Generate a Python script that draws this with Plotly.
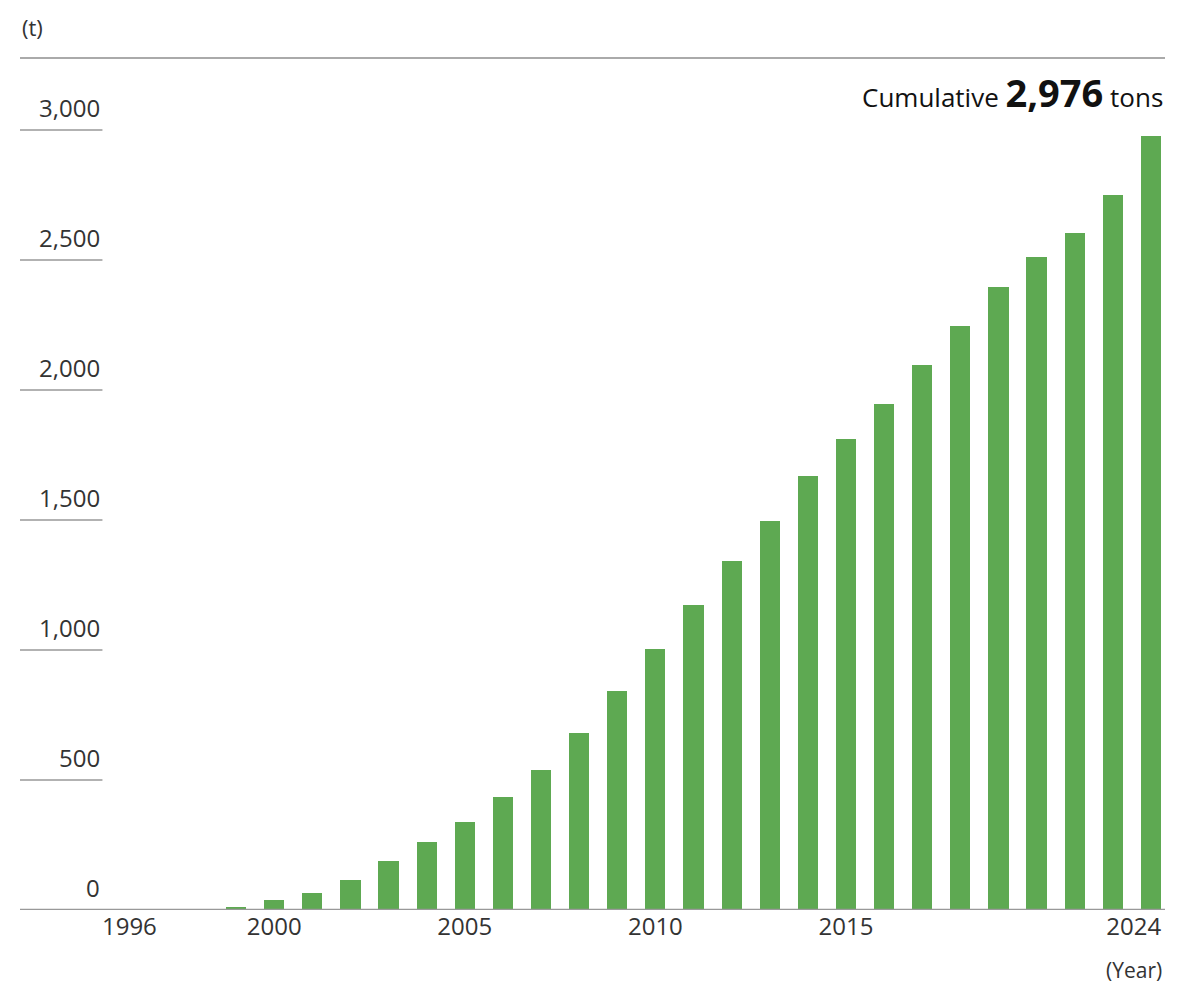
import plotly.graph_objects as go

years = list(range(1999, 2025))
tons = [2, 10, 38, 65, 115, 188, 262, 338, 435, 538, 681, 842, 1004, 1173,
        1342, 1496, 1669, 1812, 1946, 2096, 2246, 2396, 2512, 2604, 2750, 2976]
y_ticks = [0, 500, 1000, 1500, 2000, 2500, 3000]
y_labels = ["0", "500", "1,000", "1,500", "2,000", "2,500", "3,000"]
x_tickvals = [1997.2, 2001, 2006, 2011, 2016, 2023.55]
x_ticktext = ["1996", "2000", "2005", "2010", "2015", "2024"]

green = "#5ea952"
txt = "#333333"

fig = go.Figure()
fig.add_trace(go.Bar(x=years, y=tons, marker_color=green, width=0.53,
                     marker_line_width=0))

shapes = []
annotations = []
for v, lab in zip(y_ticks, y_labels):
    if v > 0:
        shapes.append(dict(type="line", xref="paper", yref="y", x0=0, x1=0.072,
                           y0=v, y1=v, line=dict(color="#999999", width=1.5)))
    annotations.append(dict(x=0.072, y=v, xref="paper", yref="y", text=lab,
                            showarrow=False, xanchor="right", yanchor="bottom",
                            yshift=4, font=dict(size=24, color=txt)))

# baseline and top rule
shapes.append(dict(type="line", xref="paper", yref="y", x0=0, x1=1, y0=0, y1=0,
                   line=dict(color="#999999", width=2.5)))
shapes.append(dict(type="line", xref="paper", yref="paper", x0=0, x1=1, y0=1, y1=1,
                   line=dict(color="#aaaaaa", width=2)))

annotations.append(dict(x=0, y=1, xref="paper", yref="paper", text="(t)",
                        showarrow=False, xanchor="left", yanchor="bottom", yshift=14,
                        font=dict(size=22, color=txt)))
annotations.append(dict(x=1, y=3040, xref="paper", yref="y",
                        text="Cumulative <b><span style='font-size:38px'>2,976</span></b> tons",
                        showarrow=False, xanchor="right", yanchor="bottom",
                        font=dict(size=26, color="#111111")))
annotations.append(dict(x=2023.55, y=0, xref="x", yref="paper", text="(Year)",
                        showarrow=False, yanchor="top", yshift=-44,
                        font=dict(size=21, color=txt)))

fig.update_layout(
    width=1200, height=988,
    plot_bgcolor="white", paper_bgcolor="white",
    font=dict(family="Open Sans", color=txt),
    margin=dict(l=12, r=43, t=50, b=86),
    showlegend=False, bargap=0,
    shapes=shapes, annotations=annotations,
    xaxis=dict(range=[1994.33, 2024.37], tickvals=x_tickvals, ticktext=x_ticktext,
               showgrid=False, zeroline=False, showline=False, ticks="",
               tickfont=dict(size=24, color=txt)),
    yaxis=dict(range=[0, 3277], showgrid=False, zeroline=False,
               showticklabels=False, showline=False),
)

fig.write_html("out.html")
